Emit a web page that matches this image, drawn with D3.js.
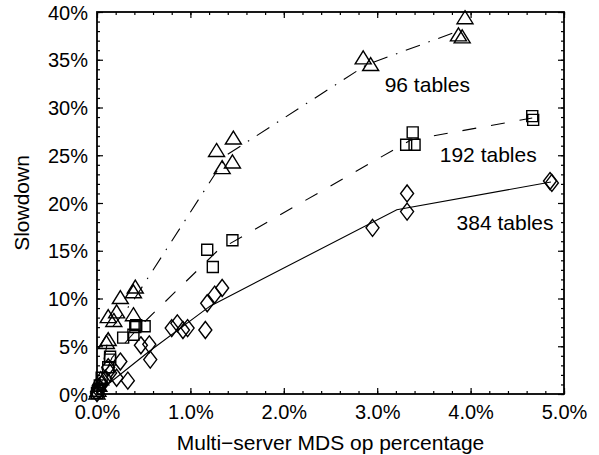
<!DOCTYPE html>
<html>
<head>
<meta charset="utf-8">
<script src="https://cdn.jsdelivr.net/npm/d3@7/dist/d3.min.js"></script>
<style>
  body { margin: 0; background: #fff; }
  text { font-family: "Liberation Sans", Arial, Helvetica, sans-serif; fill: #000; }
</style>
</head>
<body>
<svg id="chart" width="599" height="455"></svg>
<script>
// x = multi-server MDS op percentage (%), y = slowdown (%)
const tables96 = [
  [3.94, 39.4], [3.87, 37.6], [3.91, 37.4], [2.85, 35.2], [2.93, 34.5],
  [1.46, 26.8], [1.28, 25.5], [1.45, 24.3], [1.34, 23.7],
  [0.41, 11.2], [0.39, 10.7], [0.25, 10.1], [0.21, 8.6], [0.12, 8.1],
  [0.18, 7.7], [0.39, 8.3], [0.12, 5.7], [0.10, 5.4],
  [0.04, 1.6], [0.02, 0.9], [0.01, 0.4], [0.0, 0.1]
];
const tables192 = [
  [4.66, 29.1], [4.67, 28.7], [3.38, 27.4], [3.31, 26.1], [3.40, 26.1],
  [1.45, 16.1], [1.18, 15.1], [1.24, 13.3],
  [0.51, 7.1], [0.42, 7.2], [0.41, 7.0], [0.28, 5.9], [0.39, 6.2],
  [0.14, 3.9], [0.14, 3.6], [0.12, 2.8],
  [0.05, 1.7], [0.03, 0.9], [0.01, 0.3], [0.0, 0.1]
];
const tables384 = [
  [4.85, 22.3], [4.87, 22.1], [3.32, 21.0], [3.32, 19.1], [2.95, 17.4],
  [1.34, 11.1], [1.26, 10.4], [1.18, 9.5], [1.16, 6.7],
  [0.97, 6.9], [0.92, 6.7], [0.86, 7.4], [0.80, 6.9],
  [0.56, 5.2], [0.47, 5.1], [0.57, 3.6], [0.33, 1.4], [0.21, 1.7],
  [0.25, 3.4], [0.12, 2.8], [0.14, 2.2], [0.09, 1.6], [0.05, 1.0],
  [0.02, 0.4], [0.0, 0.1]
];

// fitted curves through the runs
const curve96 = [[0, 0.1], [0.14, 6.7], [0.39, 9.8], [1.40, 25.1], [2.89, 34.5], [3.87, 38.0]];
const curve192 = [[0, 0.1], [0.16, 3.8], [0.44, 6.9], [1.29, 15.0], [3.36, 26.6], [4.66, 28.9]];
const curve384 = [[0, 0.1], [0.55, 4.4], [1.21, 9.2], [3.21, 19.3], [4.86, 22.2]];

const seriesNames = ['96 tables', '192 tables', '384 tables'];
const xTicks = [0, 1, 2, 3, 4, 5];
const yTicks = [0, 5, 10, 15, 20, 25, 30, 35, 40];

const svg = d3.select('#chart');
const plot = {left: 97, right: 564, top: 12, bottom: 394};

const x = d3.scaleLinear().domain([0, 5]).range([plot.left, plot.right]);
const y = d3.scaleLinear().domain([0, 40]).range([plot.bottom, plot.top]);

const fontSize = 21;
const tickFontSize = 20;

// marker paths, centred on (0,0)
const triangle = 'M0,-7L8,6L-8,6Z';
const square = 'M-5.5,-5.5H5.5V5.5H-5.5Z';
const diamond = 'M0,-8.5L6.5,0L0,8.5L-6.5,0Z';

const series = [
  {name: seriesNames[0], points: tables96, curve: curve96, marker: triangle, dash: '15,9,1.5,9', label: [3.08, 31.6]},
  {name: seriesNames[1], points: tables192, curve: curve192, marker: square, dash: '14,15', label: [3.67, 24.3]},
  {name: seriesNames[2], points: tables384, curve: curve384, marker: diamond, dash: null, label: [3.85, 17.2]}
];

const line = d3.line().x(d => x(d[0])).y(d => y(d[1]));

// curves
svg.selectAll('.curve')
  .data(series)
  .enter()
  .append('path')
  .attr('class', 'curve')
  .attr('d', d => line(d.curve))
  .attr('fill', 'none')
  .attr('stroke', '#000')
  .attr('stroke-width', 1.1)
  .attr('stroke-dasharray', d => d.dash);

// markers
series.forEach(s => {
  svg.append('g')
    .selectAll('path')
    .data(s.points)
    .enter()
    .append('path')
    .attr('d', s.marker)
    .attr('transform', d => 'translate(' + x(d[0]) + ',' + y(d[1]) + ')')
    .attr('fill', 'none')
    .attr('stroke', '#000')
    .attr('stroke-width', 1.4);
});

// series labels
svg.selectAll('.series_label')
  .data(series)
  .enter()
  .append('text')
  .attr('class', 'series_label')
  .attr('x', d => x(d.label[0]))
  .attr('y', d => y(d.label[1]))
  .style('font-size', fontSize + 'px')
  .text(d => d.name);

// axes: ticks point inward on all four sides
function styleAxis(g) {
  g.select('.domain').remove();
  g.selectAll('.tick line').attr('stroke', '#000').attr('stroke-width', 1.2);
  g.selectAll('.tick text').style('font-size', tickFontSize + 'px').attr('fill', '#000')
    .style('font-family', '"Liberation Sans", Arial, sans-serif');
}

const xMinor = d3.range(0, 5.001, 0.2);
const yMinor = d3.range(0, 40.001, 1);

svg.append('g').attr('transform', 'translate(0,' + plot.bottom + ')')
  .call(d3.axisBottom(x).tickValues(xMinor).tickSize(-3).tickFormat('')).call(styleAxis);
svg.append('g').attr('transform', 'translate(0,' + plot.bottom + ')')
  .call(d3.axisBottom(x).tickValues(xTicks).tickSize(-6).tickPadding(11).tickFormat(d => d.toFixed(1) + '%'))
  .call(styleAxis);
svg.append('g').attr('transform', 'translate(0,' + plot.top + ')')
  .call(d3.axisTop(x).tickValues(xMinor).tickSize(-3).tickFormat('')).call(styleAxis);
svg.append('g').attr('transform', 'translate(0,' + plot.top + ')')
  .call(d3.axisTop(x).tickValues(xTicks).tickSize(-6).tickFormat('')).call(styleAxis);

svg.append('g').attr('transform', 'translate(' + plot.left + ',0)')
  .call(d3.axisLeft(y).tickValues(yMinor).tickSize(-3).tickFormat('')).call(styleAxis);
const yAxis = svg.append('g').attr('transform', 'translate(' + plot.left + ',0)')
  .call(d3.axisLeft(y).tickValues(yTicks).tickSize(-6).tickPadding(9).tickFormat(d => d + '%'))
  .call(styleAxis);
yAxis.selectAll('.tick text').attr('dy', '0.36em');
svg.append('g').attr('transform', 'translate(' + plot.right + ',0)')
  .call(d3.axisRight(y).tickValues(yMinor).tickSize(-3).tickFormat('')).call(styleAxis);
svg.append('g').attr('transform', 'translate(' + plot.right + ',0)')
  .call(d3.axisRight(y).tickValues(yTicks).tickSize(-6).tickFormat('')).call(styleAxis);

// frame
svg.append('rect')
  .attr('x', plot.left).attr('y', plot.top)
  .attr('width', plot.right - plot.left).attr('height', plot.bottom - plot.top)
  .attr('fill', 'none').attr('stroke', '#000').attr('stroke-width', 1.8);

// axis titles
svg.append('text')
  .attr('x', (plot.left + plot.right) / 2)
  .attr('y', 450)
  .attr('text-anchor', 'middle')
  .style('font-size', fontSize + 'px')
  .text('Multi\u2212server MDS op percentage');

svg.append('text')
  .attr('transform', 'translate(29,' + (plot.top + plot.bottom) / 2 + ') rotate(-90)')
  .attr('text-anchor', 'middle')
  .style('font-size', fontSize + 'px')
  .text('Slowdown');
</script>
</body>
</html>
